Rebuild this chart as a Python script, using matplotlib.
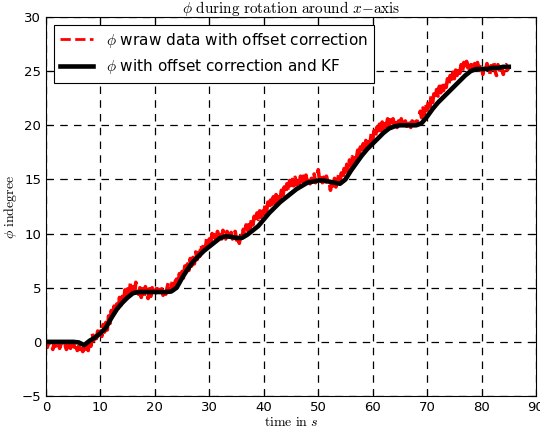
import numpy as np
import matplotlib
matplotlib.use("Agg")
import matplotlib.pyplot as plt

plt.rcParams['mathtext.fontset'] = 'cm'
plt.rcParams['font.family'] = ['DejaVu Sans']

# Kalman-filtered angle, sampled every second (t = 0 ... 85 s)
kf_time = list(range(0, 86))
kf_phi = [
    0.0, 0.0, 0.0, 0.0, 0.0, 0.0, -0.05, -0.3, 0.1, 0.4,
    0.8, 1.3, 2.2, 3.0, 3.6, 4.1, 4.5, 4.6, 4.6, 4.6,
    4.6, 4.6, 4.6, 4.65, 5.0, 5.9, 6.7, 7.4, 7.9, 8.4,
    8.8, 9.2, 9.6, 9.75, 9.7, 9.6, 9.6, 9.9, 10.3, 10.7,
    11.3, 11.9, 12.4, 12.9, 13.3, 13.7, 14.1, 14.4, 14.7, 14.8,
    14.9, 14.9, 14.8, 14.7, 14.6, 15.0, 15.8, 16.5, 17.2, 17.8,
    18.3, 18.8, 19.3, 19.7, 19.9, 20.0, 20.0, 20.0, 20.0, 20.2,
    20.8, 21.5, 22.1, 22.6, 23.1, 23.6, 24.1, 24.6, 25.0, 25.2,
    25.2, 25.2, 25.3, 25.3, 25.4, 25.4,
]

# raw angle with offset correction, sampled every 0.25 s
raw_dt = 0.25
raw_phi = [
    -0.1, -0.5, 0.0, -0.3,
    -0.2, -0.7, -0.1, -0.4,
    -0.3, 0.0, -0.6, -0.2,
    0.0, -0.5, -0.3, -0.7,
    -0.4, 0.0, -0.6, -0.2,
    -0.1, -0.5, -0.2, -0.8,
    -0.4, -0.7, -0.2, -0.9,
    -0.5, -0.9, -0.3, -0.8,
    0.2, -0.4, 0.8, 0.1,
    0.9, 0.3, 1.0, 0.4,
    1.0, 0.5, 1.6, 0.9,
    1.8, 1.1, 2.4, 1.7,
    2.9, 2.1, 3.3, 2.6,
    3.5, 2.8, 4.1, 3.3,
    4.2, 3.5, 4.8, 4.0,
    4.9, 4.2, 5.4, 4.5,
    5.1, 4.4, 5.5, 4.6,
    4.4, 5.0, 4.1, 4.9,
    4.2, 5.1, 4.5, 4.0,
    4.9, 4.2, 5.0, 4.4,
    4.3, 4.9, 4.6, 5.0,
    4.5, 4.9, 4.3, 4.8,
    4.4, 5.0, 5.5, 4.7,
    5.0, 5.7, 5.1, 5.6,
    5.8, 5.2, 6.3, 5.7,
    6.5, 5.9, 7.0, 6.3,
    7.2, 6.6, 7.7, 7.0,
    7.8, 7.2, 8.3, 7.6,
    8.5, 7.9, 9.0, 8.3,
    9.1, 8.5, 9.5, 8.8,
    9.5, 8.9, 10.0, 9.3,
    9.9, 9.3, 10.2, 9.6,
    10.1, 9.5, 10.3, 9.7,
    9.5, 10.2, 9.8, 9.4,
    10.1, 9.5, 9.9, 10.2,
    9.4, 9.9, 9.1, 9.8,
    9.6, 10.4, 9.8, 10.8,
    10.3, 11.1, 10.5, 11.3,
    10.8, 11.6, 11.0, 11.9,
    11.3, 12.1, 11.5, 12.3,
    11.8, 12.6, 12.0, 12.9,
    12.3, 13.1, 12.5, 13.4,
    12.8, 13.6, 13.0, 13.8,
    13.2, 14.0, 13.4, 14.3,
    13.7, 14.6, 13.9, 14.9,
    14.2, 15.0, 14.4, 15.2,
    14.5, 15.2, 14.6, 15.3,
    14.6, 15.3, 14.7, 15.4,
    14.7, 15.2, 14.6, 15.1,
    14.8, 15.5, 14.7, 15.1,
    15.9, 14.9, 15.3, 14.7,
    15.2, 14.6, 15.3, 14.8,
    14.9, 14.0, 15.0, 14.4,
    15.1, 14.3, 14.8, 15.4,
    14.8, 15.6, 15.0, 16.0,
    15.5, 16.4, 15.8, 16.8,
    16.2, 17.1, 16.5, 17.4,
    16.9, 17.7, 17.1, 18.0,
    17.5, 18.3, 17.7, 18.6,
    18.0, 18.8, 18.3, 19.2,
    18.6, 19.5, 18.9, 19.8,
    19.2, 20.1, 19.5, 20.3,
    19.7, 20.5, 19.9, 20.6,
    19.8, 20.5, 20.0, 20.6,
    20.0, 20.6, 19.8, 20.4,
    19.9, 20.6, 20.1, 19.7,
    20.4, 19.9, 20.5, 20.0,
    19.8, 20.4, 19.9, 20.3,
    20.0, 20.6, 20.8, 21.3,
    20.7, 21.6, 21.0, 22.0,
    21.4, 22.3, 21.7, 22.7,
    22.1, 22.9, 22.4, 23.3,
    22.7, 23.6, 23.0, 23.8,
    23.2, 24.1, 23.5, 24.3,
    23.8, 24.6, 24.0, 24.9,
    24.3, 25.1, 24.6, 25.4,
    24.8, 25.6, 25.0, 25.8,
    25.1, 25.9, 25.3, 25.8,
    25.1, 25.9, 25.3, 25.7,
    25.2, 25.8, 25.1, 25.7,
    25.3, 24.7, 25.6, 25.2,
    25.7, 25.1, 24.7, 25.5,
    25.2, 25.8, 25.0, 24.6,
    25.6, 25.1, 25.7, 25.2,
    24.7, 25.5, 25.6, 25.1,
    25.4,
]
raw_time = np.arange(len(raw_phi)) * raw_dt

x_ticks = [0, 10, 20, 30, 40, 50, 60, 70, 80, 90]
y_ticks = [-5, 0, 5, 10, 15, 20, 25, 30]

fig = plt.figure(figsize=(5.4, 4.34), dpi=100)
ax = fig.add_axes([46 / 540, 38 / 434, 490 / 540, 379 / 434])

ax.plot(raw_time, raw_phi, color='red', linestyle='--', linewidth=2.6,
        label=r'$\phi$ wraw data with offset correction')
ax.plot(kf_time, kf_phi, color='black', linestyle='-', linewidth=3.3,
        label=r'$\phi$ with offset correction and KF')

ax.set_xlim(0, 90)
ax.set_ylim(-5, 30)
ax.set_xticks(x_ticks)
ax.set_yticks(y_ticks)
ax.tick_params(direction='in', top=True, right=True, length=4, labelsize=9.5)
ax.grid(True, color='black', linestyle='--', linewidth=0.9, dashes=(6, 5))

ax.set_title(r'$\phi\ \mathrm{during\ rotation\ around}\ x\mathrm{-axis}$', fontsize=11, pad=3)
ax.set_xlabel(r'$\mathrm{time\ in}\ s$', fontsize=10, labelpad=1)
ax.set_ylabel(r'$\phi\ \mathrm{indegree}$', fontsize=10, labelpad=2)

leg = ax.legend(loc='upper left', fontsize=11, fancybox=False, framealpha=1,
                edgecolor='black', handlelength=2.2, borderaxespad=0.5)
leg.get_frame().set_linewidth(0.8)
leg.get_lines()[0].set_linewidth(2.0)

fig.savefig('out.png', dpi=100, facecolor='white')
